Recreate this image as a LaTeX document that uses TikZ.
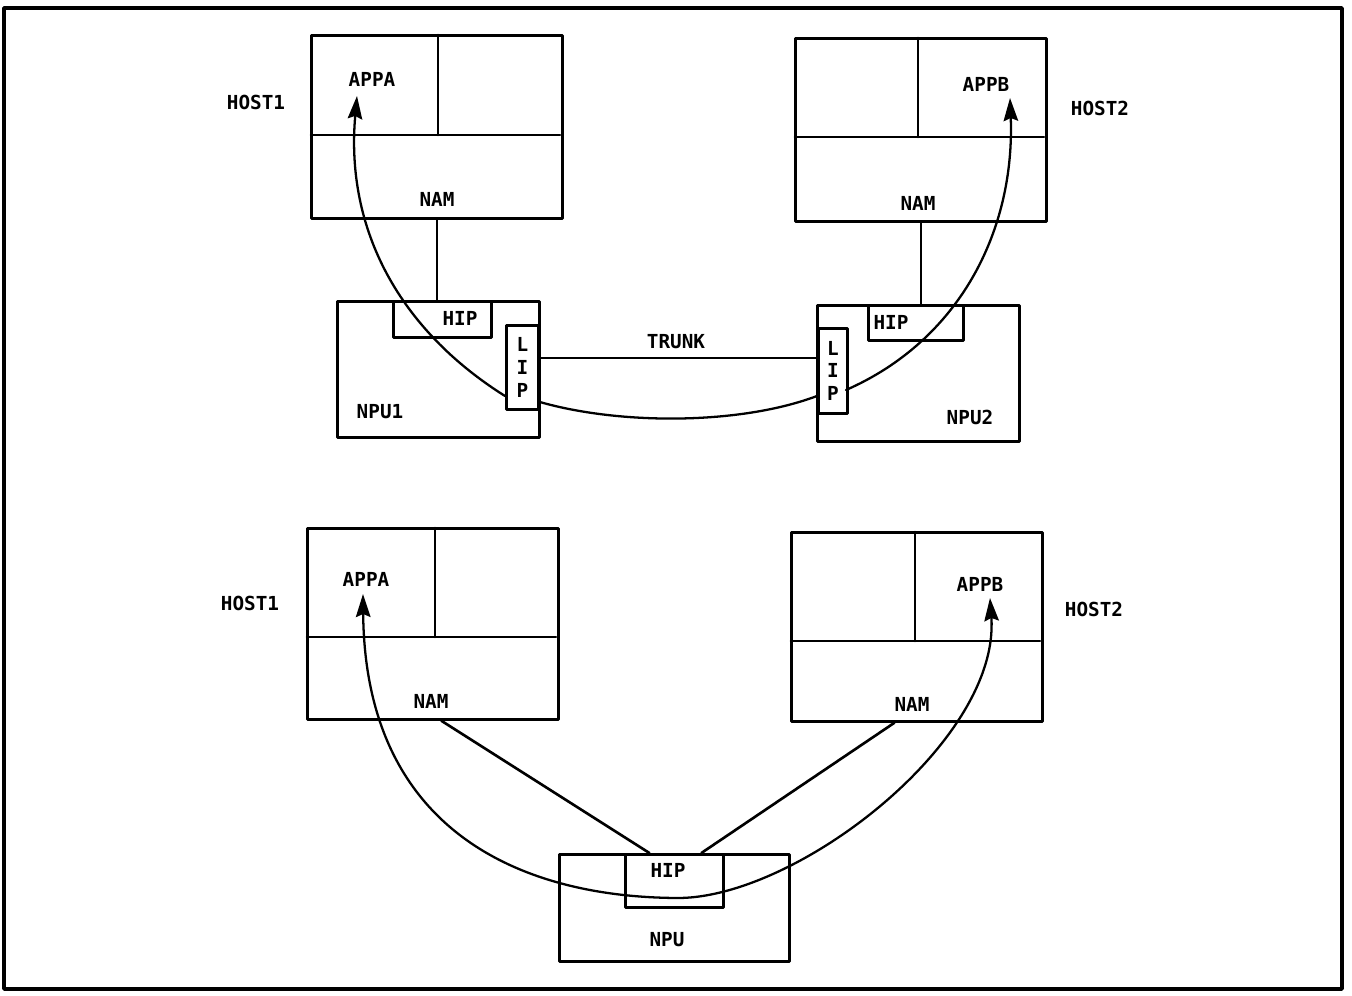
\documentclass[tikz,border=0pt]{standalone}
\usepackage{fontspec}
\newfontfamily\plotfont{DejaVu Sans Mono}
\usetikzlibrary{arrows.meta}

\begin{document}
\begin{tikzpicture}[x=0.02cm, y=-0.02cm, line cap=round, line join=round,
    >={Stealth[length=4.6mm, width=2.9mm, inset=0.6mm]},
    box/.style={draw, line width=1.6pt, inner sep=0pt, anchor=north west},
    lbl/.style={font=\plotfont\bfseries\fontsize{11}{13}\selectfont, inner sep=0pt},
    link/.style={line width=1.5pt},
    flow/.style={line width=1.3pt}]
  \useasboundingbox (0,0) rectangle (1352,996);
  % Frame
  \draw[line width=2pt] (4,8) rectangle (1342,989);

  % Upper case: two hosts, two NPUs and a trunk
  \node[box, minimum width=5.02cm, minimum height=3.66cm] (h1) at (310,34) {};
  \node[box, minimum width=5.02cm, minimum height=3.66cm] (h2) at (794,37) {};
  \draw[link] (311,135) -- (560,135) (438,35) -- (438,135);
  \draw[link] (795,137) -- (1044,137) (918,38) -- (918,137);

  \node[box, minimum width=4.04cm, minimum height=2.72cm] (npu1) at (336,300) {};
  \node[box, minimum width=1.96cm, minimum height=0.72cm] (hip1) at (392,300) {};
  \node[box, lbl, minimum width=0.64cm, minimum height=1.68cm, align=center] (lip1) at (505,324) {L\\I\\P};
  \node[box, minimum width=4.04cm, minimum height=2.72cm] (npu2) at (816,304) {};
  \node[box, minimum width=1.9cm, minimum height=0.7cm] (hip2) at (867,304) {};
  \node[box, lbl, minimum width=0.58cm, minimum height=1.7cm, align=center] (lip2) at (817,327) {L\\I\\P};

  % Labels
  \node[lbl] (host1) at (256,102) {HOST1};
  \node[lbl] (host2) at (1100,108) {HOST2};
  \node[lbl] (appa1) at (372,79) {APPA};
  \node[lbl] (appb1) at (986,84) {APPB};
  \node[lbl] (nam1) at (437,199) {NAM};
  \node[lbl] (nam2) at (918,203) {NAM};
  \node[lbl] at (460,318) {HIP};
  \node[lbl] at (891,322) {HIP};
  \node[lbl] at (380,412) {NPU1};
  \node[lbl] at (970,417) {NPU2};
  \node[lbl, above=5pt] (trunk) at (676,358) {TRUNK};

  % Links
  \draw[link] (h1.south) -- (h1.south |- hip1.north);
  \draw[link] (h2.south) -- (h2.south |- hip2.north);
  \draw[link] (lip1.east |- 0,358) -- (lip2.west |- 0,358);

  % Path APPA to APPB through the trunk
  \coordinate (t1) at (357,96);
  \coordinate (t2) at (1010,98);
  \draw[flow, ->] (505,396) .. controls (400,330) and (345,230) .. (t1);
  \draw[flow] (lip1.east |- 0,402) .. controls (620,425) and (740,425) .. (lip2.west |- 0,396);
  \draw[flow, ->] (846,390) .. controls (960,340) and (1015,230) .. (t2);

  % Lower case: two hosts on one NPU
  \node[box, minimum width=5.02cm, minimum height=3.82cm] (h3) at (306,527) {};
  \node[box, minimum width=5.02cm, minimum height=3.78cm] (h4) at (790,531) {};
  \draw[link] (307,637) -- (556,637) (435,528) -- (435,637);
  \draw[link] (791,641) -- (1040,641) (915,532) -- (915,641);

  \node[box, minimum width=4.6cm, minimum height=2.14cm] (npu) at (558,853) {};
  \node[box, minimum width=1.96cm, minimum height=1.06cm] (hip) at (624,853) {};

  \node[lbl] (host3) at (250,603) {HOST1};
  \node[lbl] (host4) at (1094,609) {HOST2};
  \node[lbl] (appa2) at (366,579) {APPA};
  \node[lbl] (appb2) at (980,584) {APPB};
  \node[lbl] (nam3) at (431,701) {NAM};
  \node[lbl] (nam4) at (912,704) {NAM};
  \node[lbl] at (668,870) {HIP};
  \node[lbl] at (667,940) {NPU};

  \draw[link] ([xshift=1.7mm]h3.south) -- ([xshift=-5mm]hip.north);
  \draw[link] ([xshift=-4.5mm]h4.south) -- ([xshift=5.4mm]hip.north);

  % Path APPA to APPB through the HIP
  \coordinate (t3) at (363,594);
  \coordinate (t4) at (990,598);
  \draw[flow, <->] (t3) .. controls (365,830) and (520,898) .. (680,898)
    .. controls (800,896) and (1000,740) .. (t4);
\end{tikzpicture}
\end{document}
